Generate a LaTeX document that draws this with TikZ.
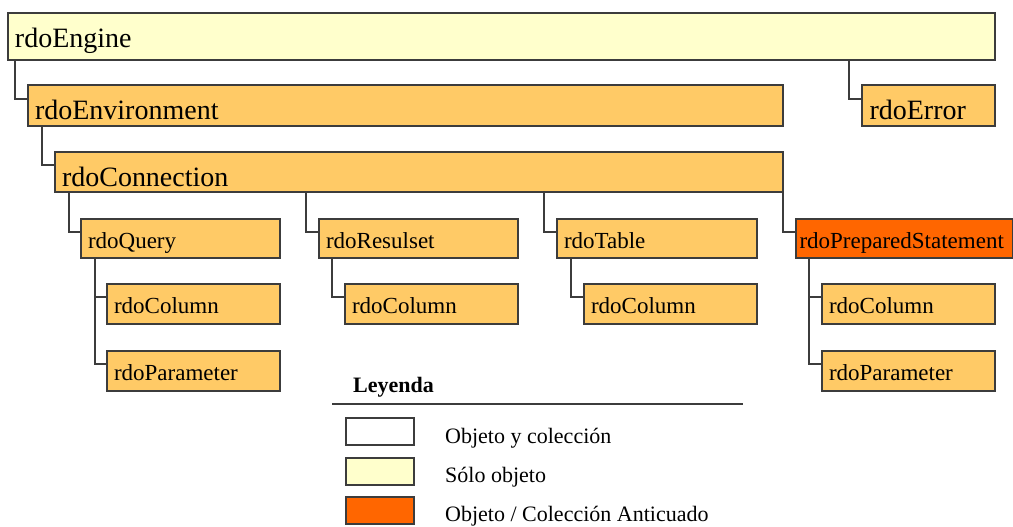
\documentclass[tikz,border=0pt]{standalone}
\usepackage{fontspec}
\setmainfont{Liberation Serif}
\definecolor{bordc}{HTML}{3C3C3C}
\definecolor{collc}{HTML}{FFCA66}
\definecolor{objc}{HTML}{FFFFCC}
\definecolor{oldc}{HTML}{FF6600}
\newcommand\bigtxt{\fontsize{28}{30}\selectfont\hyphenpenalty=10000 }
\newcommand\smalltxt{\fontsize{23}{25}\selectfont\hyphenpenalty=10000 }
\newcommand\legtxt{\fontsize{22}{24}\selectfont}
\begin{document}
\begin{tikzpicture}[x=1pt,y=-1pt,
  obj/.style={draw=bordc, line width=1.5pt, fill=collc, anchor=north west,
    inner xsep=7pt, inner ysep=0pt, outer sep=0pt, align=left},
  lvbig/.style={obj, font=\bigtxt, text height=35pt},
  lvsmall/.style={obj, font=\smalltxt, text height=29pt},
  conn/.style={draw=bordc, line width=1.6pt},
  legbox/.style={draw=bordc, line width=1.5pt, anchor=north west, inner sep=0pt,
    minimum width=68pt, minimum height=27pt},
  legtext/.style={anchor=base west, inner sep=0pt, font=\legtxt}]
\useasboundingbox (0,0) rectangle (1013,527);
% level 0-2
\node[lvbig, fill=objc, text width=973pt, text depth=12pt] (engine) at (8,13) {rdoEngine};
\node[lvbig, text width=741pt, text depth=6pt] (environment) at (28,85) {rdoEnvironment};
\node[lvbig, text width=118pt, inner xsep=7.5pt, text depth=6pt] (error) at (862,85) {rdoError};
\node[lvbig, text width=714pt, text height=34pt, text depth=6pt] (connection) at (55,152) {rdoConnection};
% level 3
\node[lvsmall, text width=185pt, text depth=10pt] (query) at (81,219) {rdoQuery};
\node[lvsmall, text width=185pt, text depth=10pt] (resulset) at (319,219) {rdoResulset};
\node[lvsmall, text width=186pt, text depth=10pt] (table) at (557,219) {rdoTable};
\node[lvsmall, fill=oldc, text width=210pt, inner xsep=3.5pt, text depth=10pt] (prepared) at (796,219) {rdoPreparedStatement};
% level 4
\node[lvsmall, text width=159pt, text depth=11pt] (col1) at (107,284) {rdoColumn};
\node[lvsmall, text width=159pt, text depth=11pt] (par1) at (107,351) {rdoParameter};
\node[lvsmall, text width=159pt, text depth=11pt] (col2) at (345,284) {rdoColumn};
\node[lvsmall, text width=159pt, text depth=11pt] (col3) at (584,284) {rdoColumn};
\node[lvsmall, text width=159pt, text depth=11pt] (col4) at (822,284) {rdoColumn};
\node[lvsmall, text width=159pt, text depth=11pt] (par4) at (822,351) {rdoParameter};
% connectors
\draw[conn] ([xshift=7pt]engine.south west) |- ([yshift=-14pt]environment.north west);
\draw[conn] ([xshift=-146pt]engine.south east) |- ([yshift=-14pt]error.north west);
\draw[conn] ([xshift=14pt]environment.south west) |- ([yshift=-13pt]connection.north west);
\draw[conn] ([xshift=14pt]connection.south west) |- ([yshift=-13pt]query.north west);
\draw[conn] ([xshift=251pt]connection.south west) |- ([yshift=-13pt]resulset.north west);
\draw[conn] ([xshift=489pt]connection.south west) |- ([yshift=-13pt]table.north west);
\draw[conn] (connection.south east) |- ([yshift=-13pt]prepared.north west);
\draw[conn] ([xshift=14pt]query.south west) |- ([yshift=-13pt]col1.north west);
\draw[conn] ([xshift=14pt]query.south west) |- ([yshift=-13pt]par1.north west);
\draw[conn] ([xshift=13pt]resulset.south west) |- ([yshift=-13pt]col2.north west);
\draw[conn] ([xshift=14pt]table.south west) |- ([yshift=-13pt]col3.north west);
\draw[conn] ([xshift=13pt]prepared.south west) |- ([yshift=-13pt]col4.north west);
\draw[conn] ([xshift=13pt]prepared.south west) |- ([yshift=-13pt]par4.north west);
% legend
\node[anchor=base west, inner sep=0pt, font=\fontsize{22}{24}\selectfont\bfseries] (legtitle) at (353,392) {Leyenda};
\coordinate (legL) at (332,404);
\coordinate (legR) at (743,404);
\draw[draw=bordc, line width=1.5pt] (legL) -- (legR);
\node[legbox, fill=white] (leg1) at (345,417) {};
\node[legbox, fill=objc] (leg2) at (345,457) {};
\node[legbox, fill=oldc] (leg3) at (345,496) {};
\node[legtext] (legt1) at (445,443) {Objeto y colección};
\node[legtext] (legt2) at (445,482) {Sólo objeto};
\node[legtext] (legt3) at (445,521) {Objeto / Colección Anticuado};
\end{tikzpicture}
\end{document}
